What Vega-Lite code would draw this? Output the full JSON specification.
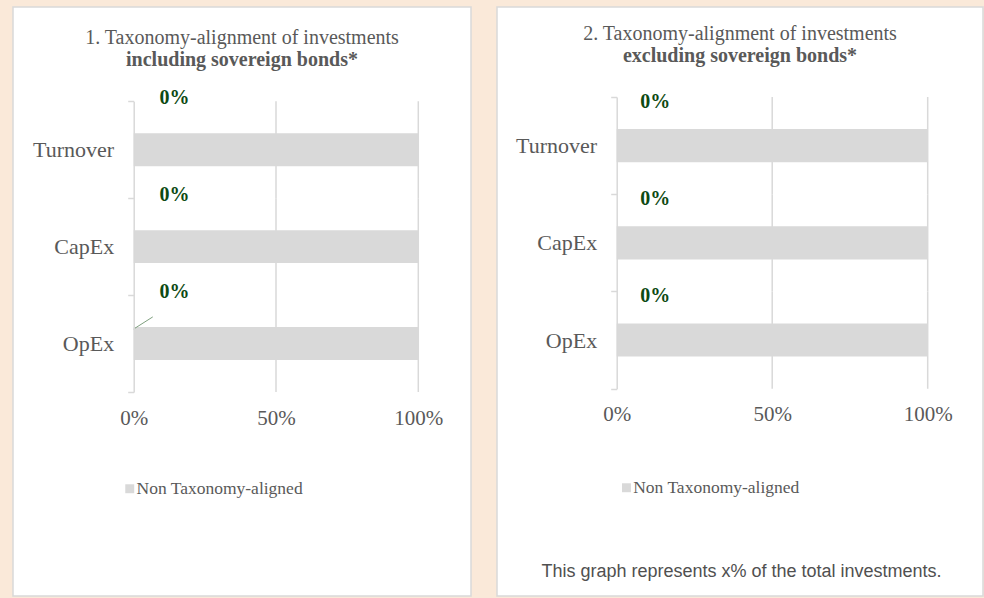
{
  "$schema": "https://vega.github.io/schema/vega-lite/v6.json",
  "background": "#FAE9D9",
  "padding": {"left": 12, "top": -5, "right": 1, "bottom": 4},
  "spacing": 24,
  "resolve": {"scale": {"color": "independent"}, "legend": {"color": "independent"}},
  "datasets": {
    "incl": [
      {"cat": "Turnover", "aligned": 0, "nonAligned": 1, "series": "Non Taxonomy-aligned"},
      {"cat": "CapEx", "aligned": 0, "nonAligned": 1, "series": "Non Taxonomy-aligned"},
      {"cat": "OpEx", "aligned": 0, "nonAligned": 1, "series": "Non Taxonomy-aligned"}
    ],
    "excl": [
      {"cat": "Turnover", "aligned": 0, "nonAligned": 1, "series": "Non Taxonomy-aligned"},
      {"cat": "CapEx", "aligned": 0, "nonAligned": 1, "series": "Non Taxonomy-aligned"},
      {"cat": "OpEx", "aligned": 0, "nonAligned": 1, "series": "Non Taxonomy-aligned"}
    ]
  },
  "config": {
    "view": {"fill": "white", "stroke": "#D9D9D9", "strokeWidth": 1.5},
    "font": "Liberation Serif",
    "title": {"anchor": "middle", "frame": "group", "font": "Liberation Serif", "fontSize": 20, "fontWeight": "normal", "color": "#595959", "subtitleFont": "Liberation Serif", "subtitleFontSize": 20, "subtitleFontWeight": "bold", "subtitleColor": "#595959", "subtitlePadding": 2}
  },
  "hconcat": [
    {
      "width": 458,
      "height": 589,
      "data": {"name": "incl"},
      "title": {"text": "1. Taxonomy-alignment of investments", "subtitle": "including sovereign bonds*", "offset": -74},
      "resolve": {"axis": {"x": "independent"}},
      "encoding": {
        "y": {
          "field": "cat", "type": "nominal", "sort": ["Turnover", "CapEx", "OpEx"],
          "scale": {"range": [94.3, 385], "paddingInner": 0, "paddingOuter": 0},
          "axis": {"orient": "left", "offset": -120.7, "title": null, "domainColor": "#D9D9D9", "domainWidth": 1.5, "tickColor": "#D9D9D9", "tickWidth": 1.5, "tickSize": 6, "tickBand": "extent", "labelPadding": 14, "labelFont": "Liberation Serif", "labelFontSize": 22, "labelColor": "#595959", "grid": false}
        }
      },
      "layer": [
        {
          "mark": {"type": "rect", "fill": "transparent", "stroke": "#D9D9D9", "strokeWidth": 1.5},
          "encoding": {"x": {"datum": 0.5, "type": "quantitative", "axis": null}, "x2": {"datum": 0.5}}
        },
        {
          "mark": {"type": "rect", "fill": "transparent", "stroke": "#D9D9D9", "strokeWidth": 1.5},
          "encoding": {"x": {"datum": 1, "type": "quantitative", "axis": null}, "x2": {"datum": 1}}
        },
        {
          "mark": {"type": "bar", "height": {"band": 0.34}},
          "encoding": {
            "x": {
              "field": "nonAligned", "type": "quantitative", "stack": null,
              "scale": {"domain": [0, 1], "range": [120.7, 405.3], "nice": false},
              "axis": {"orient": "bottom", "offset": -204, "values": [0, 0.5, 1], "format": ".0%", "domain": false, "ticks": false, "tickSize": 0, "grid": false, "labelPadding": 15, "labelFont": "Liberation Serif", "labelFontSize": 21, "labelColor": "#595959", "labelFlush": false, "labelOverlap": false, "title": null}
            },
            "color": {
              "field": "series", "type": "nominal", "scale": {"range": ["#D9D9D9"]},
              "legend": {"orient": "none", "legendX": 108, "legendY": 473, "title": null, "symbolType": "square", "symbolSize": 80, "symbolStrokeWidth": 0, "labelFont": "Liberation Serif", "labelFontSize": 17.5, "labelColor": "#595959", "labelOffset": -2, "labelLimit": 400, "padding": 0}
            }
          }
        },
        {
          "transform": [{"filter": "datum.cat === 'OpEx'"}],
          "mark": {"type": "rule", "color": "#7FA07F", "strokeWidth": 1},
          "encoding": {
            "x": {"datum": 0, "type": "quantitative", "axis": null},
            "x2": {"datum": 0.067},
            "y": {"field": "cat", "type": "nominal", "sort": ["Turnover", "CapEx", "OpEx"], "bandPosition": 0.35},
            "y2": {"field": "cat", "bandPosition": 0.225}
          }
        },
        {
          "mark": {"type": "text", "font": "Liberation Serif", "fontSize": 20, "fontWeight": "bold", "color": "#0D4A13", "dx": 40.7, "dy": -3, "align": "center", "baseline": "middle"},
          "encoding": {
            "x": {"field": "aligned", "type": "quantitative", "axis": null},
            "y": {"field": "cat", "type": "nominal", "sort": ["Turnover", "CapEx", "OpEx"], "bandPosition": 0},
            "text": {"field": "aligned", "type": "quantitative", "format": ".0%"}
          }
        }
      ]
    },
    {
      "width": 486,
      "height": 589,
      "data": {"name": "excl"},
      "title": {"text": "2. Taxonomy-alignment of investments", "subtitle": "excluding sovereign bonds*", "offset": -70},
      "resolve": {"axis": {"x": "independent"}},
      "encoding": {
        "y": {
          "field": "cat", "type": "nominal", "sort": ["Turnover", "CapEx", "OpEx"],
          "scale": {"range": [90, 381.7], "paddingInner": 0, "paddingOuter": 0},
          "axis": {"orient": "left", "offset": -119.7, "title": null, "domainColor": "#D9D9D9", "domainWidth": 1.5, "tickColor": "#D9D9D9", "tickWidth": 1.5, "tickSize": 6, "tickBand": "extent", "labelPadding": 14, "labelFont": "Liberation Serif", "labelFontSize": 22, "labelColor": "#595959", "grid": false}
        }
      },
      "layer": [
        {
          "mark": {"type": "rect", "fill": "transparent", "stroke": "#D9D9D9", "strokeWidth": 1.5},
          "encoding": {"x": {"datum": 0.5, "type": "quantitative", "axis": null}, "x2": {"datum": 0.5}}
        },
        {
          "mark": {"type": "rect", "fill": "transparent", "stroke": "#D9D9D9", "strokeWidth": 1.5},
          "encoding": {"x": {"datum": 1, "type": "quantitative", "axis": null}, "x2": {"datum": 1}}
        },
        {
          "mark": {"type": "bar", "height": {"band": 0.34}},
          "encoding": {
            "x": {
              "field": "nonAligned", "type": "quantitative", "stack": null,
              "scale": {"domain": [0, 1], "range": [119.7, 430.7], "nice": false},
              "axis": {"orient": "bottom", "offset": -207.3, "values": [0, 0.5, 1], "format": ".0%", "domain": false, "ticks": false, "tickSize": 0, "grid": false, "labelPadding": 15, "labelFont": "Liberation Serif", "labelFontSize": 21, "labelColor": "#595959", "labelFlush": false, "labelOverlap": false,
                "title": "This graph represents x% of the total investments.", "titleFont": "Liberation Sans", "titleFontSize": 18, "titleFontWeight": "normal", "titleColor": "#505050", "titleX": 244, "titleY": 182.3, "titleAlign": "center", "titleBaseline": "middle"}
            },
            "color": {
              "field": "series", "type": "nominal", "scale": {"range": ["#D9D9D9"]},
              "legend": {"orient": "none", "legendX": 120.7, "legendY": 472, "title": null, "symbolType": "square", "symbolSize": 80, "symbolStrokeWidth": 0, "labelFont": "Liberation Serif", "labelFontSize": 17.5, "labelColor": "#595959", "labelOffset": -2, "labelLimit": 400, "padding": 0}
            }
          }
        },
        {
          "mark": {"type": "text", "font": "Liberation Serif", "fontSize": 20, "fontWeight": "bold", "color": "#0D4A13", "dx": 38.5, "dy": 5, "align": "center", "baseline": "middle"},
          "encoding": {
            "x": {"field": "aligned", "type": "quantitative", "axis": null},
            "y": {"field": "cat", "type": "nominal", "sort": ["Turnover", "CapEx", "OpEx"], "bandPosition": 0},
            "text": {"field": "aligned", "type": "quantitative", "format": ".0%"}
          }
        }
      ]
    }
  ]
}
